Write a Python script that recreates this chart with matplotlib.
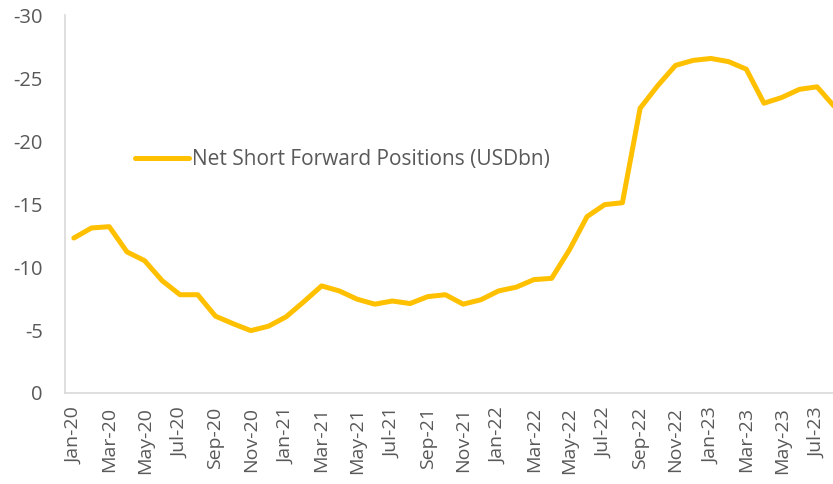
import numpy as np
import matplotlib.pyplot as plt

plt.rcParams['font.family'] = ['Open Sans', 'DejaVu Sans']

# Net short forward positions, monthly Jan-20 .. Aug-23 (USD bn)
months = ['Jan-20', 'Feb-20', 'Mar-20', 'Apr-20', 'May-20', 'Jun-20', 'Jul-20', 'Aug-20',
          'Sep-20', 'Oct-20', 'Nov-20', 'Dec-20', 'Jan-21', 'Feb-21', 'Mar-21', 'Apr-21',
          'May-21', 'Jun-21', 'Jul-21', 'Aug-21', 'Sep-21', 'Oct-21', 'Nov-21', 'Dec-21',
          'Jan-22', 'Feb-22', 'Mar-22', 'Apr-22', 'May-22', 'Jun-22', 'Jul-22', 'Aug-22',
          'Sep-22', 'Oct-22', 'Nov-22', 'Dec-22', 'Jan-23', 'Feb-23', 'Mar-23', 'Apr-23',
          'May-23', 'Jun-23', 'Jul-23', 'Aug-23']
net_short = [-12.3, -13.1, -13.2, -11.2, -10.5, -8.9, -7.8, -7.8,
             -6.1, -5.5, -4.95, -5.3, -6.05, -7.25, -8.5, -8.1,
             -7.45, -7.05, -7.3, -7.1, -7.65, -7.8, -7.05, -7.4,
             -8.1, -8.4, -9.0, -9.1, -11.35, -14.0, -14.95, -15.1,
             -22.6, -24.4, -26.0, -26.4, -26.55, -26.3, -25.7, -23.0,
             -23.45, -24.1, -24.3, -22.7]
y_ticks = [0, -5, -10, -15, -20, -25, -30]

grey = '#595959'

fig = plt.figure(figsize=(8.33, 4.84), dpi=100)
ax = fig.add_axes([65/833, 1 - 393/484, 1 - 65/833, (393 - 15)/484])

x = np.arange(len(months))
ax.plot(x, net_short, color='#FFC000', lw=3.6, solid_joinstyle='round',
        solid_capstyle='round', label='Net Short Forward Positions (USDbn)')

ax.set_ylim(0, -30)
ax.set_yticks(y_ticks)
ax.set_yticklabels([str(v) for v in y_ticks])
ax.set_xlim(-0.5, 42.9)
ax.set_xticks(x[::2])
ax.set_xticklabels(months[::2], rotation=90)

ax.tick_params(axis='y', length=0, pad=16, labelsize=14.5, labelcolor=grey)
ax.tick_params(axis='x', length=0, pad=10, labelsize=14, labelcolor=grey)

for s in ['top', 'right']:
    ax.spines[s].set_visible(False)
for s in ['left', 'bottom']:
    ax.spines[s].set_color('#D9D9D9')
    ax.spines[s].set_linewidth(1.2)

leg = ax.legend(loc='center left', bbox_to_anchor=(135/833, 1 - 160/484),
                bbox_transform=fig.transFigure, frameon=False, fontsize=15,
                handlelength=2.6, handletextpad=0.15, borderpad=0, borderaxespad=0)
for t in leg.get_texts():
    t.set_color(grey)

fig.savefig('out.png', dpi=100)
